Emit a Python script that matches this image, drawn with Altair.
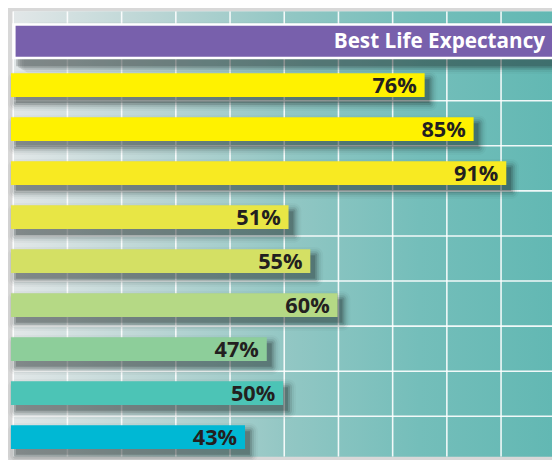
import altair as alt
import pandas as pd

# ---- data ----
values = [76, 85, 91, 51, 55, 60, 47, 50, 43]
labels = ["76%", "85%", "91%", "51%", "55%", "60%", "47%", "50%", "43%"]
bar_colors = ["#FFF200", "#FFF200", "#F8EA22", "#E8E645", "#D4E064",
              "#B5D985", "#8DCE9A", "#4CC4B6", "#00B8D4"]
title_text = "Best Life Expectancy"
grid_cols = list(range(10))
grid_rows = list(range(10))

W, H = 552, 452
FONT = "Open Sans"

bars = pd.DataFrame({"row": list(range(len(values))), "value": values,
                     "label": labels, "color": bar_colors})
title_df = pd.DataFrame({"row": [-1], "text": [title_text]})

xs = alt.Scale(domain=[-0.543, 99.40], nice=False, zero=False)
ys = alt.Scale(domain=[-1.6805, 8.447], reverse=True, nice=False, zero=False)

# ---- background grid (grid index -> position in chart units) ----
grad = alt.LinearGradient(
    gradient="linear", x1=0, x2=1, y1=0, y2=0,
    stops=[alt.GradientStop(color="#E2E7E8", offset=0),
           alt.GradientStop(color="#BCD6D5", offset=0.25),
           alt.GradientStop(color="#93C7C4", offset=0.5),
           alt.GradientStop(color="#74BEBA", offset=0.75),
           alt.GradientStop(color="#62B8B3", offset=1)])

bg = alt.Chart(pd.DataFrame({"a": [0]})).transform_calculate(
    bx0="0.4164", bx1="100", by0="-1.70", by1="9").mark_rect(
    color=grad, clip=True).encode(
    x=alt.X("bx0:Q", scale=xs, axis=None), x2="bx1:Q",
    y=alt.Y("by0:Q", scale=ys, axis=None), y2="by1:Q")

vlines = alt.Chart(pd.DataFrame({"k": grid_cols})).transform_calculate(
    gx="(2.3 + 55 * datum.k) / 5.523").mark_rule(
    color="white", strokeWidth=1.6, opacity=0.9, clip=True).encode(
    x=alt.X("gx:Q", scale=xs, axis=None))

hlines = alt.Chart(pd.DataFrame({"j": grid_rows})).transform_calculate(
    gy="(45.74 * datum.j - 75.7) / 44.63", gl="0.4164", gr="100").mark_rule(
    color="white", strokeWidth=1.6, opacity=0.9, clip=True).encode(
    y=alt.Y("gy:Q", scale=ys, axis=None),
    x=alt.X("gl:Q", scale=xs, axis=None), x2="gr:Q")

# ---- bars ----
HB = 0.2689      # half bar thickness in row units
bar_base = alt.Chart(bars).transform_calculate(
    y0=f"datum.row - {HB}", y1=f"datum.row + {HB}", zero="0")
bar_enc = dict(x=alt.X("value:Q", scale=xs, axis=None), x2="zero:Q",
               y=alt.Y("y0:Q", scale=ys, axis=None), y2="y1:Q")

def shadows(base, enc, dx, dy, clip=False):
    out = []
    for e, op in [(0, 0.22), (2, 0.16), (4, 0.10), (6, 0.06), (8, 0.03)]:
        out.append(base.mark_rect(color="#182222", opacity=op, clip=clip,
                                  xOffset=dx + e, x2Offset=dx - e,
                                  yOffset=dy - e, y2Offset=dy + e,
                                  cornerRadius=e).encode(**enc))
    return out

bar_shadows = shadows(bar_base, bar_enc, 5, 6)
bar_rects = bar_base.mark_rect().encode(
    color=alt.Color("color:N", scale=None, legend=None), **bar_enc)
bar_text = alt.Chart(bars).mark_text(
    align="right", baseline="middle", dx=-8, dy=1, font=FONT,
    fontWeight="bold", fontSize=22, color="#231F20").encode(
    x=alt.X("value:Q", scale=xs, axis=None),
    y=alt.Y("row:Q", scale=ys, axis=None), text="label:N")

# ---- title banner ----
t_base = alt.Chart(title_df).transform_calculate(
    o0="datum.row - 0.411", o1="datum.row + 0.411",
    p0="datum.row - 0.3507", p1="datum.row + 0.3507",
    ox0="0.235", px0="0.851", xr="110", tx="98.13")
t_outer_enc = dict(x=alt.X("ox0:Q", scale=xs, axis=None), x2="xr:Q",
                   y=alt.Y("o0:Q", scale=ys, axis=None), y2="o1:Q")
t_shadows = shadows(t_base, t_outer_enc, 4, 7, clip=True)
t_outer = t_base.mark_rect(color="white", clip=True).encode(**t_outer_enc)
t_inner = t_base.mark_rect(color="#7860AC", clip=True).encode(
    x=alt.X("px0:Q", scale=xs, axis=None), x2="xr:Q",
    y=alt.Y("p0:Q", scale=ys, axis=None), y2="p1:Q")
t_text = t_base.mark_text(
    align="right", baseline="middle", dy=1, font=FONT, fontWeight="bold",
    fontSize=21, color="white").encode(
    x=alt.X("tx:Q", scale=xs, axis=None),
    y=alt.Y("row:Q", scale=ys, axis=None), text="text:N")

chart = alt.layer(bg, vlines, hlines, *t_shadows, t_outer, t_inner, t_text,
                  *bar_shadows, bar_rects, bar_text).properties(
    width=W, height=H, padding=0, autosize="none",
    background="#d8d8d8").configure_view(stroke=None)

chart.save("out.html", embed_options={"renderer": "svg", "actions": False})
